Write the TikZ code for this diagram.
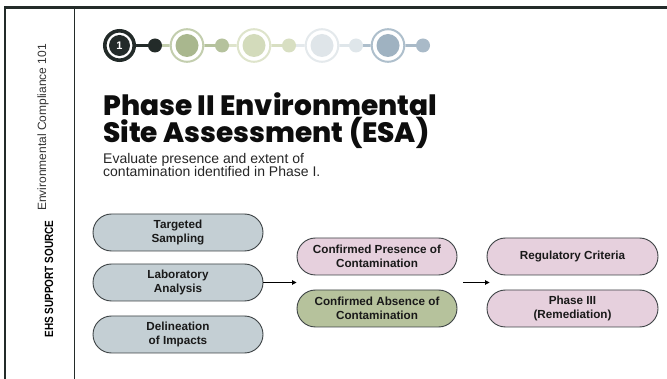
\documentclass[tikz,border=0pt]{standalone}
\usepackage{fontspec}
\setmainfont{Liberation Sans}
\newfontfamily\titlefont{Poppins}[BoldFont={* ExtraBold}]
\usetikzlibrary{arrows.meta}
\definecolor{inkdark}{HTML}{232B29}
\definecolor{pillblue}{HTML}{C4CFD4}
\definecolor{pillpink}{HTML}{E6D0DD}
\definecolor{pillgreen}{HTML}{B6C29C}
\definecolor{pilledge}{HTML}{3C4244}
\definecolor{sageA}{HTML}{A9B78E}
\definecolor{sageAr}{HTML}{C3CEAE}
\definecolor{sageAd}{HTML}{B5C29D}
\definecolor{sageB}{HTML}{D3DBBB}
\definecolor{sageBr}{HTML}{DEE4CB}
\definecolor{sageBd}{HTML}{D8DFC2}
\definecolor{greyC}{HTML}{DFE5E9}
\definecolor{greyCr}{HTML}{E4E9EC}
\definecolor{greyCd}{HTML}{DFE6EA}
\definecolor{blueD}{HTML}{9FB2C1}
\definecolor{blueDr}{HTML}{AEBFCC}
\definecolor{blueDd}{HTML}{A9BAC8}
\tikzset{
  pill/.style={draw=pilledge, line width=0.9pt, rounded corners=18.5pt,
    minimum height=37pt, inner sep=0pt, align=center,
    font=\fontsize{11.7}{13.5}\selectfont\bfseries, text=black!90},
  arr/.style={line width=0.9pt, -{Triangle[length=4.5pt,width=4.5pt]}},
  ttl/.style={anchor=base west, inner sep=0pt, align=left,
    font=\titlefont\bfseries\fontsize{28}{24.5}\selectfont, text=black!95},
  sub/.style={anchor=base west, inner sep=0pt, align=left,
    font=\fontsize{14}{13.4}\selectfont, text=black!85},
}
\begin{document}
\begin{tikzpicture}[x=1pt,y=-1pt]
\useasboundingbox (0,0) rectangle (667,379);
% frame
\draw[line width=2.5pt, inkdark] (4,7.5) -- (667,7.5);
\draw[line width=2pt, inkdark] (5,6.5) -- (5,379);
\draw[line width=1.3pt, inkdark] (74.3,7.5) -- (74.3,379);
% sidebar texts
\node[rotate=90, anchor=base, inner sep=0pt, font=\fontsize{12}{14}\selectfont, text=black!80] (side1) at (46,127.5) {Environmental Compliance 101};
\node[rotate=90, anchor=base, inner sep=0pt] (side2) at (53,279) {\resizebox{117pt}{8.3pt}{\bfseries EHS SUPPORT SOURCE}};
% stepper line
\draw[line width=3pt, inkdark] (119.5,45.5) -- (155,45.5);
\draw[line width=3pt, sageAr] (155,45.5) -- (187,45.5);
\draw[line width=3pt, sageAd] (187,45.5) -- (222,45.5);
\draw[line width=3pt, sageBr] (222,45.5) -- (254,45.5);
\draw[line width=3pt, sageBd] (254,45.5) -- (289,45.5);
\draw[line width=3pt, greyCr] (289,45.5) -- (322,45.5);
\draw[line width=3pt, greyCd] (322,45.5) -- (356,45.5);
\draw[line width=3pt, blueDr] (356,45.5) -- (388,45.5);
\draw[line width=3pt, blueDd] (388,45.5) -- (423,45.5);
% ring 1
\fill[white] (119.5,45.5) circle (16.5);
\draw[line width=3.6pt, inkdark] (119.5,45.5) circle (14.7);
\fill[inkdark] (119.5,45.5) circle (10.5);
\node[text=white, font=\fontsize{11}{11}\selectfont\bfseries, inner sep=0pt] (one) at (119.5,45.5) {1};
\fill[inkdark] (155,45.5) circle (7);
% other rings
\foreach \cx/\rc/\dc/\dotc/\dx in {187/sageAr/sageA/sageAd/222, 254/sageBr/sageB/sageBd/289, 322/greyCr/greyC/greyCd/356, 388/blueDr/blueD/blueDd/423}{
  \fill[white] (\cx,45.5) circle (17.5);
  \draw[line width=2pt, \rc] (\cx,45.5) circle (16.3);
  \fill[\dc] (\cx,45.5) circle (11.5);
  \fill[\dotc] (\dx,45.5) circle (7);
}
% title
\node[ttl] (title) at (103,142.2) {Phase II Environmental\\Site Assessment (ESA)};
\node[sub] (subt) at (103,176.7) {Evaluate presence and extent of\\contamination identified in Phase I.};
% pills
\node[pill, fill=pillblue, minimum width=170pt] (ts) at (178,232.5) {Targeted\\Sampling};
\node[pill, fill=pillblue, minimum width=170pt] (la) at (178,282.5) {Laboratory\\Analysis};
\node[pill, fill=pillblue, minimum width=170pt] (di) at (178,334.5) {Delineation\\of Impacts};
\node[pill, fill=pillpink, minimum width=160pt] (cp) at (377,256.5) {Confirmed Presence of\\Contamination};
\node[pill, fill=pillgreen, minimum width=160pt] (ca) at (377,308.5) {Confirmed Absence of\\Contamination};
\node[pill, fill=pillpink, minimum width=171pt] (rc) at (572.5,256.5) {Regulatory Criteria};
\node[pill, fill=pillpink, minimum width=171pt] (p3) at (572.5,308.5) {Phase III\\(Remediation)};
% connectors
\coordinate (j1) at (cp.west |- la.east);
\draw[arr] (la.east) -- (j1);
\coordinate (j2a) at ([xshift=6pt]cp.east |- la.east);
\coordinate (j2b) at ([xshift=3pt]rc.west |- la.east);
\draw[arr] (j2a) -- (j2b);
\end{tikzpicture}
\end{document}
